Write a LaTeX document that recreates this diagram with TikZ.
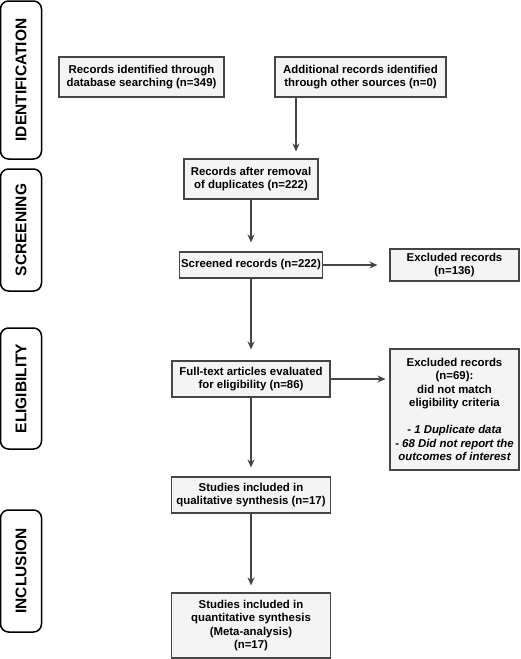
\documentclass[tikz,border=0pt]{standalone}
\usepackage{fontspec}
\setmainfont{Liberation Sans}
\usepackage{tikz}
\usetikzlibrary{arrows.meta, positioning, calc}

\definecolor{boxfill}{HTML}{F4F4F4}
\definecolor{boxline}{HTML}{454545}

\begin{document}
\begin{tikzpicture}[
                    x=1pt, y=-1pt,
                    >={Stealth[length=8pt, width=7pt]},
                    box/.style={draw=boxline, fill=boxfill, line width=1.1pt, align=center,
                                inner sep=1pt, font=\bfseries\fontsize{11.4}{13.5}\selectfont},
                    phase/.style={draw=black, rounded corners=8pt, line width=1.5pt,
                                  rotate=90, font=\bfseries\fontsize{15.5}{18}\selectfont},
                    link/.style={->, draw=boxline, line width=1.1pt, shorten >=9pt},
                ]
                \useasboundingbox (0,0) rectangle (520,659);

                % phases
                \node[phase, minimum width=158pt, minimum height=41pt] (ident) at (21,80) {IDENTIFICATION};
                \node[phase, minimum width=122pt, minimum height=41pt] (screen) at (21,230) {SCREENING};
                \node[phase, minimum width=121pt, minimum height=41pt] (elig) at (21,388.5) {ELIGIBILITY};
                \node[phase, minimum width=122pt, minimum height=41pt] (incl) at (21,571) {INCLUSION};

                % boxes
                \node[box, minimum width=165pt, minimum height=40pt] (recdb) at (141.5,77)
                        {Records identified through\\database searching (n=349)};
                \node[box, minimum width=171pt, minimum height=40pt] (recadd) at (360.5,77)
                        {Additional records identified\\through other sources (n=0)};
                \node[box, minimum width=134pt, minimum height=40pt] (recdup) at (251,179)
                        {Records after removal\\of duplicates (n=222)};
                \node[box, minimum width=143pt, minimum height=26pt] (screened) at (251,265)
                        {Screened records (n=222)};
                \node[box, minimum width=129pt, minimum height=32pt] (excla) at (454.5,265)
                        {Excluded records\\(n=136)};
                \node[box, minimum width=158pt, minimum height=36pt] (fulltext) at (251,379)
                        {Full-text articles evaluated\\for eligibility (n=86)};
                \node[box, minimum width=129pt, minimum height=121pt] (exclb) at (454.5,409.5)
                        {Excluded records\\(n=69):\\did not match\\eligibility criteria\\[13.5pt]
                         \itshape - 1 Duplicate data\\\itshape - 68 Did not report the\\\itshape outcomes of interest};
                \node[box, minimum width=159pt, minimum height=36pt] (qual) at (251,495)
                        {Studies included in\\qualitative synthesis (n=17)};
                \node[box, minimum width=159pt, minimum height=65pt] (quant) at (251,625.5)
                        {Studies included in\\quantitative synthesis\\(Meta-analysis)\\(n=17)};

                % arrows
                \draw[link, shorten >=7pt] ([xshift=-64.5pt]recadd.south) -- ([xshift=-64.5pt]recadd.south |- recdup.north);
                \draw[link] (recdup) -- (screened);
                \draw[link, shorten >=12pt] (screened) -- (excla);
                \draw[link, shorten >=11pt] (screened) -- (fulltext);
                \draw[link, shorten >=4pt] (fulltext.east) -- (exclb.west |- fulltext.east);
                \draw[link] (fulltext) -- (qual);
                \draw[link, shorten >=7pt] (qual) -- (quant);
\end{tikzpicture}
\end{document}
